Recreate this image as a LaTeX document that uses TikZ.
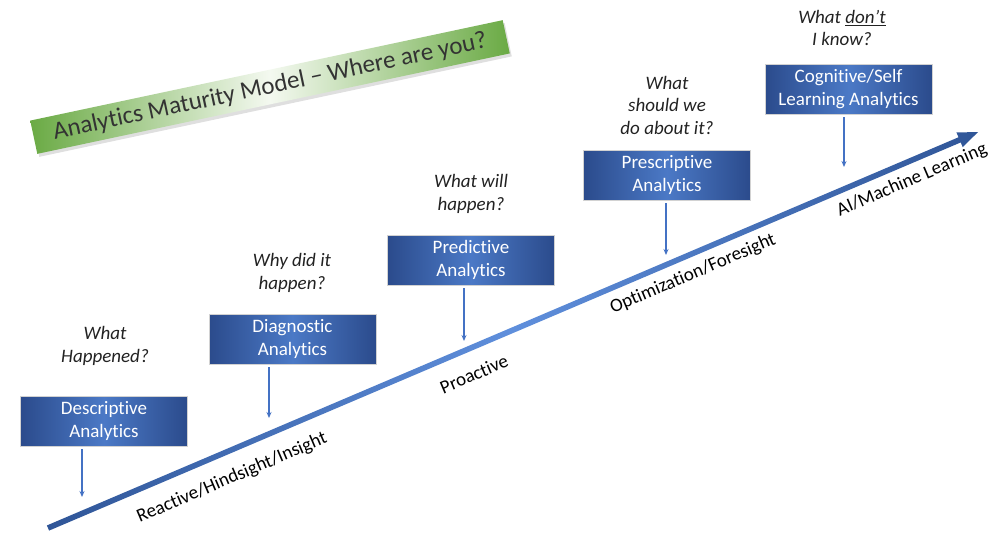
\documentclass[tikz,border=0pt]{standalone}
\usepackage{fontspec}
\setmainfont{Carlito}[Ligatures=NoCommon]
\usetikzlibrary{shadows,arrows.meta}
\definecolor{adark}{HTML}{2F5597}
\definecolor{alight}{HTML}{5F8FDC}
\definecolor{bdark}{HTML}{2B4B8C}
\definecolor{bmid}{HTML}{4B79C6}
\definecolor{gdark}{HTML}{6AAA44}
\definecolor{glight}{HTML}{F4F9F0}
\definecolor{qtext}{HTML}{222222}
\definecolor{ttext}{HTML}{333333}
\definecolor{pin}{HTML}{4472C4}
\begin{document}
\begin{tikzpicture}[x=1pt,y=-1pt,
  stage/.style={minimum width=167pt, minimum height=50pt, inner sep=0pt, align=center,
    text=white, font=\fontsize{19}{23}\selectfont,
    left color=bdark, right color=bdark, middle color=bmid, draw=gray!35, line width=0.8pt},
  question/.style={align=center, text=qtext, font=\fontsize{19}{22.5}\selectfont\itshape},
  phase/.style={rotate=23.1, font=\fontsize{19}{20}\selectfont, text=black, inner sep=0pt},
  pinarrow/.style={draw=pin, line width=1.4pt, -{Stealth[length=6pt,width=5pt]}},
  banner/.style={rotate=12, minimum width=483pt, minimum height=34pt, inner sep=0pt,
    left color=gdark, right color=gdark, middle color=glight, text=ttext,
    font=\fontsize{25}{26}\selectfont,
    drop shadow={shadow xshift=2pt, shadow yshift=-3pt, opacity=0.25, fill=gray}}
]
\useasboundingbox (0,0) rectangle (998,539);

% title banner
\node[banner] (title) at (270,87) {Analytics Maturity Model -- Where are you?};

% main arrow
\shade[left color=adark, right color=adark, middle color=alight]
  (49.10,530.58) -- (960.70,142.42) -- (962.73,147.20) -- (978,132)
  -- (956.47,132.48) -- (958.50,137.26) -- (46.90,525.42) -- cycle;

% stage boxes
\node[stage] (desc) at (104,421) {Descriptive\\Analytics};
\node[stage] (diag) at (292.5,339) {Diagnostic\\Analytics};
\node[stage] (pred) at (471,260) {Predictive\\Analytics};
\node[stage] (presc) at (667,175) {Prescriptive\\Analytics};
\node[stage] (cogn) at (848.5,89) {Cognitive/Self\\Learning Analytics};

% questions
\node[question] (q1) at (105,346) {What\\Happened?};
\node[question] (q2) at (292,273) {Why did it\\happen?};
\node[question] (q3) at (471,194) {What will\\happen?};
\node[question] (q4) at (667,105) {What\\should we\\do about it?};
\node[question] (q5) at (842,28) {What \underline{don’t}\\I know?};

% pins
\coordinate (e1) at (82,497);
\coordinate (e2) at (269,418);
\coordinate (e3) at (464,341);
\coordinate (e4) at (666,255);
\coordinate (e5) at (844,167);
\draw[pinarrow, shorten <=3pt] (desc.south -| e1) -- (e1);
\draw[pinarrow, shorten <=3pt] (diag.south -| e2) -- (e2);
\draw[pinarrow, shorten <=3pt] (pred.south -| e3) -- (e3);
\draw[pinarrow, shorten <=3pt] (presc.south -| e4) -- (e4);
\draw[pinarrow, shorten <=3pt] (cogn.south -| e5) -- (e5);

% phase labels
\node[phase] (l1) at (232,478) {Reactive/Hindsight/Insight};
\node[phase] (l2) at (474,374) {Proactive};
\node[phase] (l3) at (693,274) {Optimization/Foresight};
\node[phase] (l4) at (912,180) {AI/Machine Learning};
\end{tikzpicture}
\end{document}
